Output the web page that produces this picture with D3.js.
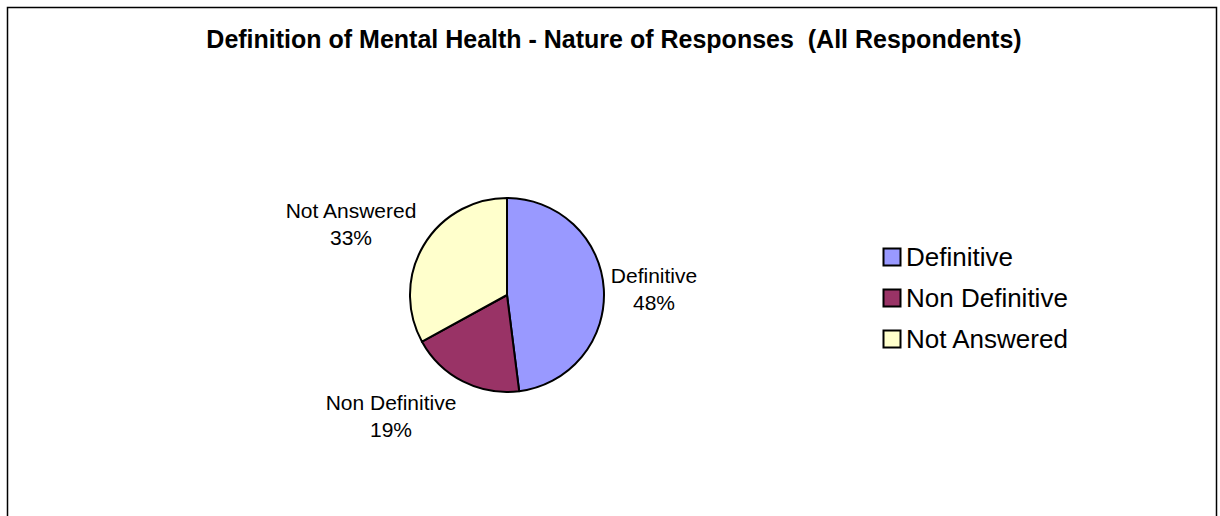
<!DOCTYPE html>
<html>
<head>
<meta charset="utf-8">
<script src="https://cdn.jsdelivr.net/npm/d3@7"></script>
<style>
  html, body { margin: 0; padding: 0; background: #fff; }
  svg { display: block; }
  text { font-family: "Liberation Sans", Arial, sans-serif; fill: #000; }
</style>
</head>
<body>
<svg id="chart" width="1220" height="516"></svg>
<script>
// Response categories and their share of all respondents (%)
const categories = ["Definitive", "Non Definitive", "Not Answered"];
const values = [48, 19, 33];
const colors = ["#9999FF", "#993366", "#FFFFCC"];
const title = "Definition of Mental Health - Nature of Responses  (All Respondents)";

const svg = d3.select("#chart");

// outer frame
svg.append("rect")
  .attr("x", 7.5).attr("y", 7.5)
  .attr("width", 1209).attr("height", 540)
  .attr("fill", "#fff").attr("stroke", "#000").attr("stroke-width", 1.5);

svg.append("text")
  .attr("x", 614).attr("y", 48)
  .attr("text-anchor", "middle")
  .attr("font-size", 25).attr("font-weight", "bold")
  .style("white-space", "pre")
  .text(title);

const cx = 507, cy = 295, r = 97;
const data = categories.map((c, i) => ({ name: c, value: values[i], color: colors[i] }));
const pie = d3.pie().sort(null).value(d => d.value);
const arc = d3.arc().innerRadius(0).outerRadius(r);
const arcs = pie(data);

const g = svg.append("g").attr("transform", `translate(${cx},${cy})`);
g.selectAll("path")
  .data(arcs)
  .join("path")
  .attr("d", arc)
  .attr("fill", d => d.data.color)
  .attr("stroke", "#000")
  .attr("stroke-width", 2)
  .attr("stroke-linejoin", "round");

// slice labels placed outside the rim
const labelOffsets = {
  "Definitive": [147, -12],
  "Non Definitive": [-116, 115],
  "Not Answered": [-156, -77]
};
const lg = svg.append("g").attr("transform", `translate(${cx},${cy})`);
arcs.forEach(a => {
  const [dx, dy] = labelOffsets[a.data.name];
  const t = lg.append("text")
    .attr("text-anchor", "middle")
    .attr("font-size", 21)
    .attr("x", dx).attr("y", dy);
  t.append("tspan").attr("x", dx).attr("dy", 0).text(a.data.name);
  t.append("tspan").attr("x", dx).attr("dy", 27).text(Math.round(a.value) + "%");
});

// legend
const legend = svg.append("g").attr("transform", "translate(883,248)");
const rows = legend.selectAll("g")
  .data(data)
  .join("g")
  .attr("transform", (d, i) => `translate(0,${i * 41})`);
rows.append("rect")
  .attr("x", 0.5).attr("y", 0.5)
  .attr("width", 17).attr("height", 17)
  .attr("fill", d => d.color)
  .attr("stroke", "#000").attr("stroke-width", 2);
rows.append("text")
  .attr("x", 23).attr("y", 17.5)
  .attr("font-size", 26)
  .text(d => d.name);
</script>
</body>
</html>
